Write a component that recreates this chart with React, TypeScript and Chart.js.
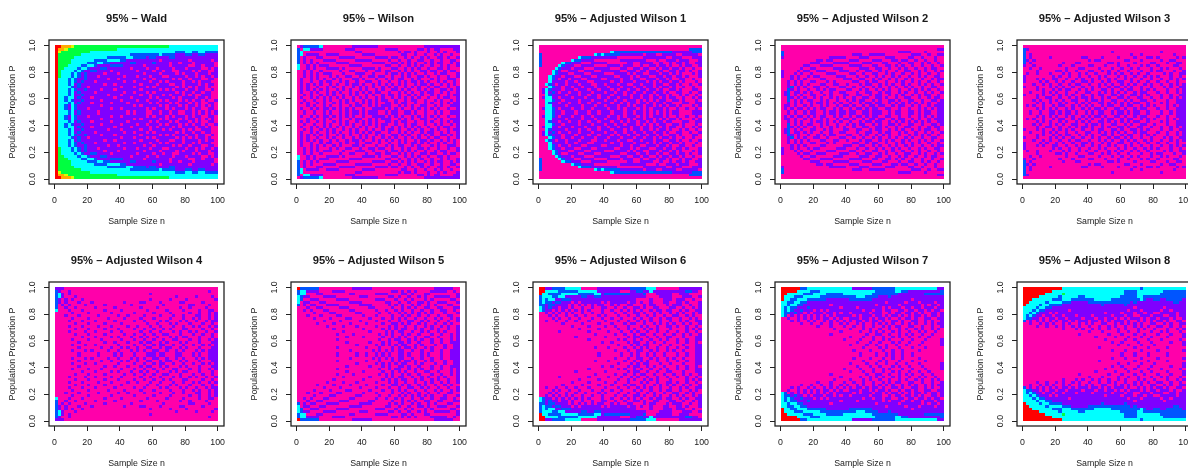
import React, { useEffect, useRef } from "react";
import { Chart, registerables } from "chart.js";

Chart.register(...registerables);

const titles = ["95% – Wald","95% – Wilson","95% – Adjusted Wilson 1","95% – Adjusted Wilson 2","95% – Adjusted Wilson 3","95% – Adjusted Wilson 4","95% – Adjusted Wilson 5","95% – Adjusted Wilson 6","95% – Adjusted Wilson 7","95% – Adjusted Wilson 8"];
const xTickValues = [0, 20, 40, 60, 80, 100];
const yTickValues = [0, 0.2, 0.4, 0.6, 0.8, 1];
const palette: Record<string, string> = { R: "#FF0000", O: "#FFAA00", Y: "#D5FF00", G: "#00FF40", C: "#00FFFF", B: "#0055FF", V: "#7F00FF", M: "#FF00AA" };
const allM = "MMMMMMMMMM MMMMMMMMMM MMMMMMMMMM MMMMMMMMMM MMMMMMMMMM";

// each list: one text row per band of P from 1.0 down to 0.5; the lower half mirrors it
const wald = [
"RROOOYGGGG GGGGGGGGGG GGGGGGGGGG GGGGGCCCCC CCCCCCCCCC",
"ROOYGGGGGG GGGGGGGGGC CCCCCCCCCC CCCCCCCCCC CCCCCCCCCC",
"RYGGGGGGGG GCCCCCCCCC CCCCCCCCCC CCCCCCCBBB CCBBCCBBBB",
"RGGGGGGGCC CCCCCCCCCC CCCBBBBBBB BBCBBBBVVV BBVVBBVVVV",
"RGGGGGCCCC CCCCCCBBBB BBCCBBBBVB BVVVVBBVVV VVVVVVVVVV",
"RGGGGCCCCC CCBBBBCCCC BBVVVVVVVV VVMVVVVVVV VMVVVVVVMV",
"RGGGGCCCCC BBBCCBBVVV VVVBBVVVVV BVVVVMVVMV VVMVVVVVVM",
"RGGGCCCCBB CCBVVVVBBB BVVVVVVMVV VVVVVMVVVV VMMVVMVVVM",
"RGGCCCCBCC BVVVBBVVVV VVVMVVVVMV VMVVVVMVVV MVVVVMMVMV",
"RGCCCCBCBV VBBVVVVMVV VVVVVMVVVV MVVMVVMMVV VVMVMVVMMV",
"RGCCCBCBVB VVVVVMVVVM VVVVVVVMVV VVMVVVVMVM VVVMVVVMVV",
"RGCCCBCBVB VVVMVVVVVV VMVVVMVVVM VVVMMVVVVV MVVMVMVVMV",
"RCCCBCBVVB VVVVVVMVVM VVVVVVVMVV MVVVVVMVMV VMVVVMMVVM",
"RCCCBCBVBV VVMVVVVVVV VMVVMVVVVM VVMVMVVVVM VVMVMVVVMM",
"RCCCBCVBVV VVVVVMVVMV VVVVVVMVVV VMVVVMMVVM VVVVMVMVVM",
"RCCCCBVBVV MVVVVVVVVV MVVVMVVVMV MVVVVVVMVM VMVMVVMVMM",
"RCCCBCBVVB VVVVMVVVMV VVVVVVMVVV VVMVMVMVVV MVVMVVMMVM",
"RCCCBCVBVV VVMVVVVVVV VMVVMVVVMV MVVVVVVMVM VVMVVMVVMM",
"RCCCBCVVBV VVVVVVMVVV MVVVVVMVVM VVVMVMVVVM VMVMMVVVMM",
"RCCBCCVBVV VMVVVVVVMV VVVMVVVVVM VMVVVVMVMV VVVMVVMVMM",
"RCCBCBVVBV VVVVMVVVVV MVVVVMVVMV VVMVMVVVMV MVMVVMVMMV",
"RCCCBCVBVV VMVVVVVMVV VVMVVVVVVM VMVVVMVMVV VMVMVMMVVM",
"RCCBVCBVVV VVVVMVVVVV VVVVMVMVVV VVMVMVVVMV MVVMVMVMVM",
"RCCBVCBVVV MVVVVVVMVV MVVVVVVVMV MVVVMVMVVV MVMVVMMVVM",
"RCCCBCVBVV VVVMVVVVVV VVMVMVVVMM VVMVVMVVMM VVMVMVMVMV",
];
const wilson = [
"MVBBBBBCMM MMMMMMMVVV VVVVVMMMMM MMMMMMMMMV VVVVVVVVVV",
"BMCCVVVVMM MMMMMVVVMM MMMMMMMVVV VMMMMMMVVM VMVVMMMMVV",
"BCMMMMMMMM MMMMMMMMVV MMMMMMMMMM MVMVVMVMMM VMMVMVMMMV",
"BCMVVVVMMV VVVMMMMMMM VVVVMMMMMM MMVVMMVMMV MMVMVMMVMM",
"BMVMMMVVMM MMMVVVVVMM MMMMVVVVMV VMMVMVMMVM VMMVVMVMMV",
"BMVMVMMMVV VVMMMMMMVV VVVMMMMMVM MVMMVMMVVM MVMMVMMVVM",
"BMVMVMVMMM MMVVVVMMMM MMMVVVVMMV VMVMVMVMMV MVMVVMMVMV",
"CMMVMVMVVV MMMMMMVVVV MMMMMMMVVM MVMMVMVMVM MVMMVMVMMV",
"CMMVMVMMMV VVVMVMMMMM VVVVMVMMMV VMMVMVMVMM VMMVVMVMMM",
"MMVMVMMVMM MMMVMMVVMM MVMMVVMVVM MVMVMVMMVV MVVMMVMVVM",
"MMVMVMVMVV VMMMVMMMVV VMMVMMMVMV VMVMVMVMMV MMVMVVMMMV",
"MMVMVMVMMM VMVMMVVMMV MMVVMVVMMV MMVMVMMVVM VMMVMMVMMV",
"MVMMVMVMVM MVMVMMMVVM VMMMVMMVMV MVVMMVMVMM MVMVMMVVVM",
"MVMMVMMVMV VMMVMVMMVM MVVMMVMMVM MVMVMVVMVM VMMVMVMMVM",
"MVMVMVMVMM VMVMMVMVVM VMMVMVMVMV MVMVMMVMVV MVMMVMVMVM",
"MVMVMMVMMV MVMMVMMVMV MVMVMMVMVM VMMVMVMVMM VMVVMMVMMV",
"MVMVMVMVMV MMVMVMVMMV MVMMVMVMMV VMVMVMMVMV MVMMVVMVMV",
"MVMMVMVMMV MVMVMMVMVM VMVMVVMMVM MVMVMVMMVM VVMMVMVMMV",
"MMVMVMMVMV MVMMVMVMVM MVMVMMVMVV MVMMVMVMVM MVMVMMVMVV",
"MVMMVMVMVM VMVMVMMVMV MVMMVMVMMV MVMVMVMVMM VMMVMVVMMV",
"MMVMMVMMVM VMMVMVMVMM VMVMVMVVMM VMMVMVVMMV MMVMVMMVMV",
"MVMVMMVMVM MVMVMVMMVM VMVMVMMVVM VMVVMMVMMV MVMMVMVMVV",
"MMMVMVMMVM VMMVMMVMVV MMVMVMVVVM MVMVMVMMVV MMVMVMMVVV",
"MVMMVMVMVV MVMVMVMVMM VMMVVVVMVM VMVMMVMVMV MVMVMMVMMV",
"MMVMMVMMVM VMMVMVMVVM VMVVVMMVMV VMMVVMVMMV MMVMVMMVVV",
];
const adjusted1 = [
allM,
"MMMMMMMMMM MMMMMMMMMM MMMMMMMMMM MMMMMMMMMM MMMMMMBBBB",
"MMMMMMMMMM MMMMMMMMMM MMCBBBBBBB BBBBBBBBBB BVVVVVVBBB",
"BMMMMMMMMM MMMMMMMCBC BBBBBVVVVV VVMVVVMMVV VVMMVVVVVM",
"BMMMMMMMMM MMCBBBVVVV VVVVMMMMMM MMVVVVVVVM MVVVMMMVVV",
"BMMMMMMMMM CBBVVVVMMM MMMMMVVVVV VVVMMMVMMV VVMVVVMMMV",
"BMMMMMMCBB VVVMMMVVVV VMMMMMMVVM MVVVVMMVMM VMVVMVMMVV",
"BMMMMMCBVV VMMVVVVMMM MVVVVMVVVM MVMMVVMVVM VMMVMVVMMV",
"MMMMMCBVVV MVVVMMMVVV VVMMMVVMMV VMVVMMVMVV MVVMVMMVMM",
"MMMMCBVMMV VVMMVVVMMV VVVVVMMVVV MVVMVVMVMM VVMVVMVMMV",
"MMMMCBVVVM MVVVMMVVVV MMMVVVVMVM VVMMVVVMVV MVMVMMMVMV",
"MMMCBVVMVV VMMVVVMMVV VVVMMVVVMV MVVVMMVVMV VMVVMVMMMV",
"MMMCBVMVVM VVVMMVVVVM MVVVVMVVMV VMMVVVMVVM VMMVVMMVMM",
"MMMCVVVVMV VMVVVMMVVV VVMVVMVVVM VVVMVMVMVV MVVMVMMMVM",
"MMCBVMVVMV VVMVVVMMVV MVVVMVVMMV VMVVVMVVMM VVMVMMVMMV",
"MMMCBVVMVV MVVMVVVMVV VMVVVMVVVM VVMVVMVMVV MVMMVMMVMM",
"MVCBVVVMVV VMVVVMVVMV VVMVMVVMVV MVVMVVMVMM VVMVMMMVVM",
"MVCVBVMVVM VVMVVVMVVV MVVMVVMVVM VVMVVMVVMV MMVVMMVMMV",
"MMCBVVVVMV VVMVVMVVMV VVMVVVMVMV VMVVMVMVVM VMMVMVMMVM",
"MVCCVVMVVV MVVVMVVVMV VMVVMVVVMV VMVVMVVMVM VVMMVMMVMV",
"MMCCBVVMVV VVMVVVMVVV MVVMVVMVVV MVMVMVMVVM MVVMVMMMVM",
"MMCBVVMVVM VVMVVMVVMV VVMVVMVMVV MVVMVMVVMV VMMMVVMMVV",
"MMCCVVVVMV VVVMVVVMVV MVVVMVVMVM VVMVVMVMVM VVMVMMMVMV",
"MVCCBVMVVV MVVMVVMVVV VMVVMVMVVV MVMVMVVVMV MMVMMVMMVM",
"MMCCBVVMVV VMVVVMVVMV VVMVVVMVVM VVMVMVMVMV MVVMMMMVVV",
];
const adjusted2 = [
allM,
"MMMMMMMMMM MMMMMMMMMM MMMMMMMMMM MMMMMMMMMM MMMMMMMMVV",
"BMMMMMMMMM MMMMMMMMMM MMMMMMMMMM MMMMMMVVVV MMMMVMMMMM",
"BMMMMMMMMM MMMMMMMMMM MMVVVMMVVV VVMMMMMMMM VVVMMVMMVV",
"VMMMMMMMMM MMMMMVVVVV MMMMVVVMMM MMVVVMMMMV VMMVMMMVMM",
"MMMMMMMMMM MVVMVVMMMM MVVVMMMMVV VMMMVVMVVM MVMMVMMVMM",
"MMMMMMMMMV VVMMMMVVVV VMMMMVVVMM MVVMMMVMMV VMMVMVMMVM",
"MMMMMMMVVM MMVVVVMMMM MVVVVMMMVV MMVVMVMVMM VMMVMMVMMV",
"MMMMMMVMMV VMMMMMVVVM MMMMVVVMMV VMMVMMVMVM MVMMVMVVMM",
"VMMMMVMVVM MVVVMMMMVV VMMVMMVVMM VMVMMVMMVV MMVMVMMVMV",
"VMMMVMVMMV MMMMVVVMMM MVVMMVMMVV MMVMVMMVMM VMVMMVMMVM",
"VMMVMVMMVM VVMMMMMVVV MMMVMMVMMV MVMMVMVMMV MMVMVMMVVM",
"MMMVMVMVMM MMVVMMMMMV VVMMVVMMVM VMMVMVMMVM VMMVMMVMVV",
"MMVMVMVMMV VMMMVMVMMM MMVVMMVMVV MMVMMVMVMM VMVMMVMMVM",
"MMVMVMVMVM MMVVMMVVMM VMMMVMVVMM VMVMVMMVMV MMVMVMVMMV",
"MMVBMVMVMM VVMMVMMMVV MMVMMVMMVM VMMVMVMMVM VMMVMMVVMM",
"MMBVMVMMVM MVMVMVVMMM VVMMVMVMMV MVMVMMVMMV MVMVMVMMVM",
"MVBMVVMVMV MMVMMVMMVV MMMVMMVVMM VMVVMMVMVM MVMMVMVMMV",
"MVBMVMVMMV VMMVMVMMMV VMMVVMMVMV VMMVMVMVMM VMVMVVMMVM",
"MMBVMVMVMM VMVMMVMVMV MMVMMVVMMV VMVMMVMMVV MMVMMVMVVM",
"MMBMVMVMVV MMVMVMMVMM VMVMVVMMVM VMMVVMVMMV VMMVMMVVMV",
"MMVMVMVMMV MVVMVMVMVM MVMMVMVVMV VMMVMVMVMV MVMVMVMMVV",
"MVVMVMMVMV MMVMVMMVMV VMVMMVMVVM VVMMVMVVMM VMVMMVMVVV",
"MVMVMVVMVM VMVVMMVMVM MVMVVMVMVV MMVVMMVMMV MMVMVMVMVV",
"MMVMVMMVMV VMMVMVVMVV MVVMMVVMVV VMMVMVVMMV VMVMVVMMVV",
];
const adjusted3 = [
allM,
"BVMMMMMMMM MMMMMMMMMM MMMMMMMMMM MMMMMMMMMM MMMMMMMMMM",
"BMMMMMMMMM MMMMMMMMMM MMMMMMMVMM MMMMMMMMMM MMVMMMMMMM",
"BMVMMMMMMM MMMMMMMMMM MMMMMMMMMM MMMVMMVMMM MMMMMMVMMM",
"BMVMMMMMVM MMMMMMMMVV MMMMVMMMMV MMMMVMMMVV MVMMMMMVMV",
"BVMVMMMMMM MMMMMMMMMM VMVVMMMMMM MVVMMMVMMM MMVMMVVMMM",
"BMVMMMMMMM MMVMMMVVMM MMMMMMVVMV MMMMVMMMMV VMMMVMMVVM",
"VMMVMMMMMM MVMMMVMMMM VVMMMVMMMV MMVMMMVMVM MVMMMMVVMM",
"MMVMMVMMMM MMMVMMMVVM MMMVMMMVMM VMMVMVMMMV MMVMVMMMVM",
"MMMMVMMMMM VVMVMMVMMM VVMMVMVMMV MMVMMMVMMV MVVMMMVMMV",
"MVMMVMMMVM MMVMVMMVMV MMVMMMVMVM VMMVMVMMVM MMMVMVMMVV",
"VMMMMMMMMV MVMMVMMVMM VMMVMVMMMV MVMMVMMVMV MVMMMVMMVM",
"VMMMVMVMMV VMMVMMVMVM MVMVMMVMVM MVMVMMVMMV MMVMMVMVMV",
"VMMMMVMVMM VMVMMVMMVV MVMMVMVMMV VMMVMVMMVM MVMMVMMVMM",
"MMMVMMVMVM MVMMVMVVMM VMMVMVMVMM VMVMVMMVMV MMVMMVMVMV",
"VMMMVMMMVM VMVMMVMMVM MVMVMMVMVV MVMVMMVMMV MMMVMVMMVV",
"MMMMVMVMMV MVMVVMMVMV MVMMVVMVMM VMVVMMVMVM VMMMVMMVMV",
"MMVMMMVMVM VMMVMMVMMV VMMVMVMVMV MVMMVMVVMM MVMMVMMVMV",
"VMMMVMVMMV MVMVMVMMVM MVMVVMMVVM VMMVVMVMVM MMVMMVMMVV",
"MMMMVMMVVM MVMMVMVMVV MVMMVMVMMV VMVMMVVMMV MMVMMVMVMV",
"MMMVMVMMVM VMVMMVVMMV MVVMVMMVVM MVMVMMVVMM VMMMVMMVVV",
"MMMMVMVMVM MVMVMMVMVM VMMVVMVMVM VMVMVVMMVM MMVMVMMVVV",
"MVMVMMVMMV MVVMMVMVMV MVMMVMVVMM VMVVMMVMVM VMMMVMVMVV",
"MMMMVMVMVM VMMVMVMMVM VMVVMVMMVV MVMMVMVVMM MVMMVMMVVV",
"MMVMMVMMVV MVMVVMVMMV MVMVVMMVMV VMVMVVMMVM MMVMMVMVVV",
];
const adjusted4 = [
"VVVMMMMMMM MMMMMMMMMM MMMMMMMMMM MMMMMMMMMM MMMMMMMMMM",
"BVMMVMMMMM MMMMMMMMMM MMMMMMMMMM MMMMMMMMMM MMMMMMMVMM",
"BCVMVMMMMM MMMMMMMMMM MMMMMMMMMV MMMMMMMMMM MMMMMMMMMM",
"BCVMMMVMMM MMMMMMMMMM MMMMMMMMMM MMMMMMMVMM MMMVMMMMVM",
"BVMVMVMMVM MMMMMMMMMM MMMMMMMMMV MMMMMVMMMM VMMMMMMMMV",
"BVMVMMMVMM MVMMMMMMMM MVMMMMVVMM MMVMMMMMVV MMMMMVMMMM",
"BMVMVMMMMV MMMMMVMMMM MMMVMMMMMM MMMVMMMMMM MVVMMMMVMM",
"BMMVMMVMMM MMVMMMMMVM MMMMMMVMMM MVMMMMMMVM MVMMMMVMMM",
"CMMMVMMMVM MMMMMVMMMM VMMMMMMMVM MMMMVMMMMV MMMMVMMVVM",
"MMMMMVMMMM VMMMMMMVMM MMMMVMMMMM VMMMMVMMMM MVMMVMMVMV",
"MMMVMMMVMM MMMVMMMMMV MMVMMMMVMM MMVMMMVMMV MMMVVMMVMV",
"MMMMMVMMMM VMMMMMVMMM MVMMMMVMMM VMMMMVMMMV MMVMVMMVMV",
"MMMMVMMMVM MMVMMMMMVM MMMMVMMVMM MMVMVMMMVM VMMVMMVMVV",
"MMMMMMVMMM VMMMMVMMMM VMMMMMMMVM MVMMMVMVMM MVMMMVMMVM",
"MMMMVMMMVM MMMVMMMVMM MMVMMVMMMV MMVMMMVMMV MMVMVMMVMV",
"MMMMMMVMMM VMMMMVMMMV MMMMVMMVMM VMMVMVMMMV VMMMMVMMVM",
"MMMMVMMMMV MMVMMMMVMM VMMMMMVMMV MMVMMMVMVM MVMVMMVMMV",
"MMMMMMVMMM VMMMMVMMMM MVMMVMMVMM VMMVVMMMVM MMVMMVMMVM",
"MMMMMMMMVM MMVMMMMVMV MMMVMMVMVM MVMMMVMVMV VMMMVMMMVM",
"MMMMMVMMMM VMMMVMMMMM VMMMVMMVMM VMMVMMVVMM MVMMVMMVMV",
"MMMMMMMVMM MMMMMVMMVM MMVMMMVMVV MMVMVMMMVM VMMMVMMMVV",
"MMMMMVMMMV MMVMMMMMMV MMMMVMMVMM VMVVMMVMMV MMVMMVMVMV",
"MMMMMMMVMM MMMMVMMVMM VMVMMVMMVV MMVMVVMMVM VMMMVMMMVV",
"MMMMMVMMMV MVMMMMVMMV MMMVMVMVMM VVMMVMMVMV MMMVMVMVVV",
"MMMMMMMVMM MMMVMMMMVM VMMMVMMMVV VMVVMMMVVM MMVMVMMVVV",
];
const adjusted5 = [
"RBBBBBBMMM MMMMMMMVVV VVVMMMMMMM MMMMMMMMMM MMVVVVVVMM",
"BCCVVVVMMM MVVVVMMMMM MMMMMMMMMV VMVMVMVMMM MVVVVVMMVM",
"BCCMMMVVMM MMMMMMVVMM MMMMVVVVMM MMVVMVMMMV VMMMMMMMMV",
"CBVVMMMMVV VVMMMMMMMV VVMMMMMMVV MVMMVMMVMV MMVVVVVMMV",
"CBMMVVVMMM MMVVVVMMMM MMMMVVVMMM VMMVMVMMMV MVMMMMMVVM",
"CMVVMMMVVM MMMMMMVVVV MMMMMMMVVM MVMMVMMVVM VMMVVVMMMV",
"BMVMVVMMMV VVVMMMMMMV VVVMMMMMVM VMVMMVMVMM VMVMMMVVMM",
"MMMVMMVVMM MMMVVVMMMM MMVVMMMMMV MMVMVMVMMV VMMVVMMMVV",
"MMVMVMMMVV MMMMMMVVMM MMMMVMMVMM VMVMMVMMVM MVMMVVMMVM",
"MMMMMVMMMM VVMMMMMMVV MMMMMVMMVM MVMVMVMVMV MVMMMVMMMV",
"MMMVMMMVMM MMVVMMMMMM VMMMVMMMMV MMVMVMMVMM VMMVMMVVMM",
"MMMMMVMMMM VMMMMVVMMM MMVMMMVMMV MVMVMMVMMV MMVMVMMVMV",
"MMMMMMMMVM MMMVMMMMMV MMMMVMMMVM MVMMVVMMVM VMMVMMVMMV",
"MMMMMMVMMM MVMMMMVMMM MVMMMMVMMV VMVMVMMVMV MMVMMVMVMM",
"MMMMMMMMMV MMMMVMMMVM MMMMVMMMVM VMMVMMVMMV MVMMVMVMMV",
"MMMMMMMMMM MVMMMMMMMM VMMMMMVMVM VMVVMMVMVM MVMVMMVMMV",
"MMMMMMMMMM MMMMVMMMMM MMVMMMMVMV MVVMMVMMVM VMMVMVMMMV",
"MMMMMMMMMM MMVMMMMVMM MMMMMVMVMV MMVMVMMVMM MVMMVMMVMV",
"MMMMMMMMMM MMMMMVMMMM VMMMMMVMMV MVMVMMVMMV VMMVMMMVMV",
"MMMMMMMMMM MMVMMMMMMM MMMMMVMMVM VVMMVMVMVM MVMMVMMVMV",
"MMMMMMMMMM MMMMMVMMMM MMVMMMVMVM MVVMVMMVMM MVMMVMMVVV",
"MMMMMMMMMM MMMMMMMMVM MMMMVMVMVM VMVVMMVMVM MMVMMVMMVV",
"MMMMMMMMMM MMVMMMMMMM MVMMMVMMMV MVMVVMVMMV MVMMMVMMVV",
"MMMMMMMMMM MMMMMMVMMM MMMVMVMVMV MVVMMVMMVM MVMMVMMVVV",
"MMMMMMMMMM MMVMMMMMVM MVMMVMVMVM MVVMVMMMVM VMMMVMMVVV",
];
const adjusted6 = [
"RRVVBBBBCC CCCMMMMMVV VVVVVVVVBB BBBCCCMMMM MMMVVVVVVV",
"RRCCCCBBBB BBCCCCCCVV VVVVVMMMVV BBVVCVVVVV VVVVVBBVVM",
"RCCBBBBCCC CCBBBBBCCV BBBBBBBBVV VVBMMMVVVV VMMVVVMMMM",
"BCCCBBCCVV VVVBBVVBBV VVVVVVVVVV VVVMMMMVVV VMMMVVVMMV",
"BCBCCVVBBB VVVVVVVVVV VVVVVVVVVV MMMMVMMMVV VMVVVMMVMM",
"BCBBVBBVVV MVMVVVVVVM VMVVVVVMVV MVMMVMMMVV MMVVMVMMMV",
"BBVBBVVVVM VMVMVMVMVV MMVMVMMVVM MMVMVVMMMV MVVVMMVMMV",
"CBVBVVMVVM VMMVMMVMMV VMMVMMVMMV VMVMMVVMMM VVMMVMMVMV",
"CBVVMVMVMV MVMVMVMMMV MMVMMVMVMV MVMMVMVVMV VMMVMVMMVV",
"MMVMVMVMVM VMMVMMVMMV MMMVMMVMMV VMVMMVMVMM VMVMVMMVMV",
"MMMVMVMMVM MVMMVMMMVM VMMMVMMVMM VMMVMVMMVM MVVMMVMVMM",
"MMMMVMVMMV MMVMMMVMMV MMVMMVMMMV MVMMVMMVMV VMMVMMVMVM",
"MMVMMVMMVM MVMMMVMMMM VMMMVMMVMM VMVMVMMVMM VMMVMVMMVV",
"MMMMMMMVMM MMMVMMMMVM MMVMMMVMVV MMVMMVMVMV MVMMVMVMMV",
"MMMMMMMMMM VMMMMVMMMM VMMVMMMVMM MVMVMMVMMV VMVMMVMMVM",
"MMMMMMMMMM MMVMMMMMVM MMMMVMMVMV MMVMVMVMMM VMMMMVMVMV",
"MMMMMMVMMM MMMMMVMMMM MVMMMVMMVM VMMVMMVMMV MMVMMVMMVM",
"MMMMMMMMMM MMMMMMMVMM MMMVMMVMMV MVVMMVMMVM MVMMVMVMMV",
"MMMMMMMMMM MVMMMMMMMM VMMMMMMVMV VMMVMMVMMV VMMMVMMMVV",
"MMMMMMMMMM MMMMMVMMMM MMMMVMVMMV MVMMVMMVMV MMVMMVMMVV",
"MMMMMMMMMM MMMMMMMMMV MMVMMMMVMV VMMVMVMMVM MMVMMVMMVM",
"MMMMMMMMMM MMMMMMMMMM MMMMVMMMVM VMVVMMMVMM VMMMVMMMVV",
"MMMMMMMMMM MMMMMMMVMM MVMMMMVMMV MVMVMMVMMV MMVMMVMMVV",
"MMMMMMMMMM MMMMMMMMMM MMMVMMMVMM VVMMVMVMMV MVMMVMMMVV",
"MMMMMMMMMM MMMMMMMMVM MMMMMVMMVM VMMVMVMMVM MMVMMVMMVV",
];
const adjusted7 = [
"RRRRRRBBCC CCCCCCCCCC CCVVVVVVBB BBBBBCCCCC CCCCCCCCVV",
"RRRRRCCCCB BBCCCCCCCC CCCCCCCCCB BBBBBCCBBV VVVVVVVVVB",
"RRCCCCCBBB CCCCBBBBBC CCCCCCCCBB BBBBBBVVVV VVVVBBBBBB",
"RCCCBBBCCC CCBBBBBBBB BBBCCCBBBB VVVBVVVVVV VVVVVVVVVV",
"RCCBBCCCBB BBBBVVVVVV VBBBBBBBVV VVVVVVVVVV MVVVVVVVVV",
"CCBBCCBBVV VVVVVVVVVV VVVVVVVVVV VVMVVVVVMV VVMVVVVMVV",
"CCBCCBBVVV VVVVVMVVVV VVVVVVVVVM VVVVVVMVVV VVVMVMVVMV",
"CBCBBVVVBV VVVVVVVVMV VVVMVVVVVV VMVMVVVMVV MVVMVVVMVV",
"CBCBVVBVVV MVMVMVVVVV VVVVVMVVMV VMVVMMVVMV VMVVMVMVVM",
"CBBVBVVMVM VVVMVVMVMV VMVVVVVMVV VMMVMVVMVV MVMVMMVVMV",
"CBMVMVMVMV MVMVMVMVVV VVMVMVVVMV VMVMVVMVMV MVVMVMVVMV",
"MMVMMVMVMV MVMVVMVMVM MVVVMVVMVM VVMVMMVMVV MVMMVVMMVV",
"MMMVMVMMVM VMMVMVMVMV MVMVVMVMVV MVMMVVMVMM VVMMVMVMMV",
"MMMMMMVMMV MMVMMVMMVM VMMVMVMMVM VMVMVMMVMV MVMMVMVMVV",
"MMMMMMMMMM MVMMMVMMMV MMVMMVMMVM MVMVMVVMMV VMMVMMVMMV",
"MMMMMMMMMM MMMMMMVMMM MVMMMVMVMM VMMVMMVMVM MVMVMMVMVM",
"MMMMMMMMMM MMMMMMMMVM MMMMVMMVMV MVMMVMVMMV MMVMVMMVMM",
"MMMMMMMMMM MMMMMVMMMM MMMMMMVMMV VMMVMMVMVM VMMVMMVMMM",
"MMMMMMMMMM MMMMMMMMMM MVMMMVMMVM MVMMVMVMMV MMVMMVMMMM",
"MMMMMMMMMM MMMMMMMMMV MMMMVMMMVM MVMVMMMVMM VMMMVMMMMV",
"MMMMMMMMMM MMMMMMMMMM MMMVMMMVMM VMMMVMVMMV MMMVMMMMMV",
"MMMMMMMMMM MMMMMMMMMM MVMMMMVMMV MMVMMVMMVM MMVMMMMMMV",
"MMMMMMMMMM MMMMMMMMMM MMMMMVMMMM VMVMMMVMMM VMMMVMMMMM",
"MMMMMMMMMM MMMMMMMMMM MMVMMMMVMM MVMMVMMVMM MMVMMMMMMM",
"MMMMMMMMMM MMMMMMMMMM MMMMVMMMMV MMVMVMMVMM VMMMMMMMMM",
];
const adjusted8 = [
"RRRRRRRRRR RRCCCCCCCC CCCCCCCCCC CCCCCCBCCC CCCCCCCCCC",
"RRRRRRRRRC CCCCCCCCCC CCCCCCCCCC CBBBBCCCCC CCCBBBBBBB",
"RRRRRRRCCC CCGCCCCCCC CCCCCCCCCC CBBBBCCCCC CCBBBBBBBB",
"RRRRRCCCCC CBCCCCCBBC CCCCCCCCCC BBBBBCCBBB BBBBBBBBBB",
"RRRCCCCCCB BBCCCBBBBB BBCCCCCBBB BBBBBBCBVV BBVVBBBBBV",
"RRCCCCCBCC CCBBBVVVVV BBBBBBBBBB BBBVBVVVVV VVVVVVBBVV",
"RCCCCBCCBB BBVVVVVVVV VVVVBVVVVV VBVVVVVVVV VVVVVVVVVV",
"CCCCBCCBBV VVVVVVVVVV VVVVVVVVVV VVVVMVVVVV VVVMVVVVVV",
"CCCBCBBVVV VVVVMVVVVV VVVVVVVVVV VVMVVVMVVV VVMVVMVVVV",
"CCBCBVVVMV MVVVVVVVVV VVVVVMVVVV MVVVMVVMVV MMVVVVVMVV",
"CBCBVVMVVM VVMVVVMVVV VMVVVVVMVV VMVVMMVVVM VVVMMVVMVV",
"CBBVVMVMVV MVVMVVVVMV VVMVVMVVMV MVMVVVMVMV VMVVVMVMMV",
"BMVMVMVMVM VMVVMVMVVV MVVMVMVMVV VMVMMVMVMV MVVMVMMVVM",
"MMVMMVMVMV MMVMVMMVMV MVMMVVMMVM VMVMVMVMMV VMMVMVMMVV",
"MMMMVMMVMM VMVMMVMVMM VMMVMMVMVM MVMMVMVMVM MVVMMVMMVM",
"MMMMMMMMMM MMVMMMVMVM MVMVMMVMMV MVMMMVMVMM VMMMVMMVMV",
"MMMMMMMMMM MMMMMMMMMM VMMMVMMMMV MMVMMVMMMV MMVMVMMMVM",
"MMMMMMMMMM MMMMMMMVMM MMMMMMVMMM VMMMVMMVMM MVMMMVMMMV",
"MMMMMMMMMM MMMMMMMMMM MMVMMMMMVM MMVMMMVMMV MMMMVMMMMV",
"MMMMMMMMMM MMMMMMMMMM MMMMMVMMMM MVMMVMMMVM MMVMMMMMVM",
"MMMMMMMMMM MMMMMMMMMM MMMMMMMVMM VMMMMVMMMV MMMMMVMMMV",
"MMMMMMMMMM MMMMMMMMMM MMMMMMMMMV MMVMMMVMMM VMMMMMMMMV",
"MMMMMMMMMM MMMMMMMMMM MMMVMMMMMM MMMMVMMMVM MMMMVMMMMM",
"MMMMMMMMMM MMMMMMMMMM MMMMMMMVMM MVMMMMVMMM MVMMMMMMMV",
"MMMMMMMMMM MMMMMMMMMM MMMMMMMMMM VMMMVMMMVM MMMMVMMMMM",
];
const panelRows = [wald, wilson, adjusted1, adjusted2, adjusted3, adjusted4, adjusted5, adjusted6, adjusted7, adjusted8];

const FONT = "'Liberation Sans', Arial, sans-serif";
const TEXT = "#1a1a1a";
const COLW = 2;
const ROWH = 0.02;

function buildDatasets(rows: string[]) {
  const full = [...rows, ...rows.slice().reverse()];
  const byColor: Record<string, { x: number; y: number }[]> = {};
  full.forEach((raw, r) => {
    const row = raw.replace(/ /g, "");
    for (let j = 0; j < 50; j++) {
      const ch = row[j] || row[row.length - 1];
      (byColor[ch] = byColor[ch] || []).push({ x: COLW * j + 1, y: 1 - ROWH * (r + 0.5) });
    }
  });
  return Object.keys(byColor).map((k) => ({ label: k, data: byColor[k], backgroundColor: palette[k], pointRadius: 0, showLine: false }));
}

const cellsPlugin = {
  id: "cells",
  beforeDatasetsDraw(chart: any) {
    const { ctx, scales: { x, y }, data } = chart;
    ctx.save();
    data.datasets.forEach((ds: any) => {
      ctx.fillStyle = ds.backgroundColor;
      ds.data.forEach((p: any) => {
        const x0 = Math.round(x.getPixelForValue(p.x - COLW / 2));
        const x1 = Math.round(x.getPixelForValue(p.x + COLW / 2 + 0.016));
        const y0 = Math.round(y.getPixelForValue(p.y + ROWH / 2));
        const y1 = Math.round(y.getPixelForValue(p.y - ROWH / 2));
        ctx.fillRect(x0, y0, x1 - x0, y1 - y0);
      });
    });
    ctx.restore();
  },
  afterDraw(chart: any) {
    const { ctx, chartArea: a } = chart;
    ctx.save();
    ctx.strokeStyle = "#222";
    ctx.lineWidth = 1.3;
    ctx.strokeRect(a.left, a.top, a.right - a.left, a.bottom - a.top);
    ctx.restore();
  },
};

function Panel({ index }: { index: number }) {
  const ref = useRef<HTMLCanvasElement>(null);
  useEffect(() => {
    const canvas = ref.current!;
    const chart = new Chart(canvas, {
      type: "scatter",
      data: { datasets: buildDatasets(panelRows[index]) as any },
      plugins: [cellsPlugin],
      options: {
        animation: false,
        responsive: false,
        events: [],
        layout: { padding: { left: 0, right: 12, top: 0, bottom: 0 } },
        plugins: {
          legend: { display: false },
          tooltip: { enabled: false },
          title: {
            display: true,
            text: titles[index],
            fullSize: false,
            color: TEXT,
            font: { family: FONT, size: 11.2, weight: "bold", lineHeight: 1.2 },
            padding: { top: 12.3, bottom: 14.26 },
          },
        },
        scales: {
          x: {
            type: "linear",
            min: -3.4,
            max: 103.9,
            afterFit: (s: any) => { s.height = 50; },
            afterBuildTicks: (s: any) => { s.ticks = xTickValues.map((value) => ({ value })); },
            grid: { drawOnChartArea: false, drawTicks: true, tickLength: 5, color: "#222", lineWidth: 1 },
            border: { display: false },
            ticks: { autoSkip: false, maxRotation: 0, padding: 6, color: TEXT, font: { family: FONT, size: 8.8 }, callback: (v: any) => String(v) },
            title: { display: true, text: "Sample Size n", color: TEXT, font: { family: FONT, size: 8.8, lineHeight: 1.2 }, padding: { top: 0, bottom: 7 } },
          },
          y: {
            type: "linear",
            min: -0.037,
            max: 1.041,
            afterFit: (s: any) => { s.width = 49; },
            afterBuildTicks: (s: any) => { s.ticks = yTickValues.map((value) => ({ value })); },
            grid: { drawOnChartArea: false, drawTicks: true, tickLength: 5, color: "#222", lineWidth: 1 },
            border: { display: false },
            ticks: { autoSkip: false, minRotation: 90, maxRotation: 90, crossAlign: "center", padding: 5, color: TEXT, font: { family: FONT, size: 8.8 }, callback: (v: any) => Number(v).toFixed(1) },
            title: { display: true, text: "Population Proportion P", color: TEXT, font: { family: FONT, size: 8.8, lineHeight: 1.2 }, padding: { top: 7, bottom: 0 } },
          },
        },
      } as any,
    });
    return () => chart.destroy();
  }, [index]);
  const row = index < 5 ? 0 : 1;
  return <canvas ref={ref} width={236} height={234} style={{ position: "absolute", left: (index % 5) * 242, top: row * 242, display: "block" }} />;
}

export default function App() {
  useEffect(() => {
    document.body.style.margin = "0";
    document.body.style.overflow = "hidden";
    document.body.style.background = "#fff";
  }, []);
  return (
    <div style={{ position: "absolute", left: 0, top: 0, width: 1188, height: 468, overflow: "hidden", background: "#fff" }}>
      {titles.map((_, i) => <Panel key={i} index={i} />)}
    </div>
  );
}
